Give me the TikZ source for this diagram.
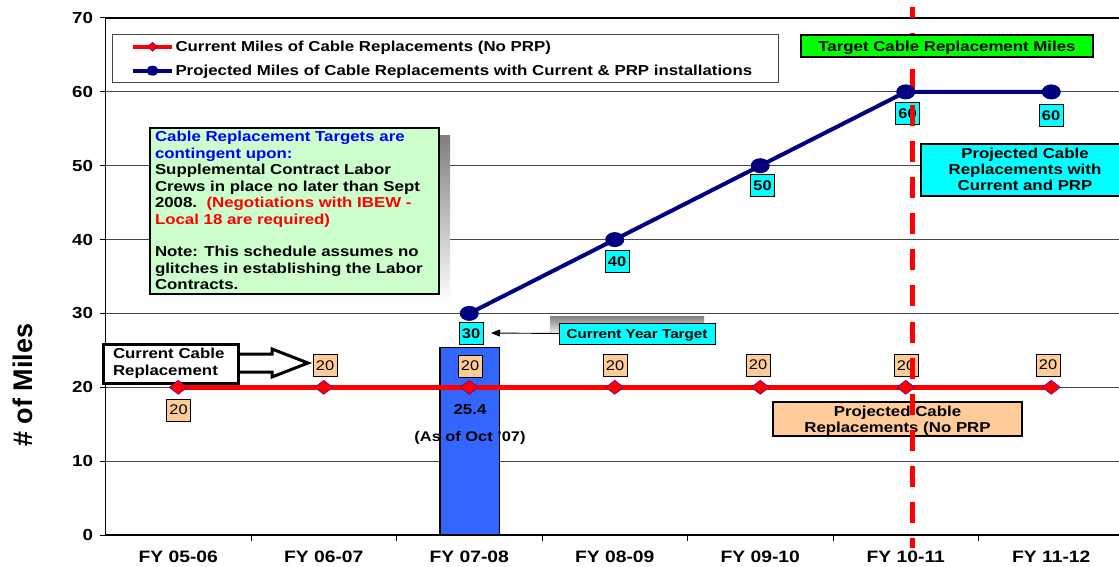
\documentclass[tikz,border=0pt]{standalone}
\usepackage{fontspec}
\setmainfont{Liberation Sans}[FakeStretch=1.17]
\newfontfamily\axisfont{Liberation Sans}
\usetikzlibrary{arrows.meta,shapes.geometric}

\definecolor{navyc}{RGB}{0,0,128}
\definecolor{redc}{RGB}{255,0,0}
\definecolor{cyanc}{RGB}{0,255,255}
\definecolor{peach}{RGB}{255,204,153}
\definecolor{mint}{RGB}{204,255,204}
\definecolor{limec}{RGB}{0,255,0}
\definecolor{barblue}{RGB}{51,102,255}
\definecolor{shade}{RGB}{128,128,128}
\definecolor{noteblue}{RGB}{0,0,255}
\definecolor{mkedge}{RGB}{102,0,153}
\definecolor{gridc}{RGB}{70,70,70}

\newcommand\txtb{\bfseries\fontsize{14.4}{16.4}\selectfont}
\newcommand\txtr{\fontsize{14}{16}\selectfont}

\tikzset{
  every node/.style={inner sep=0pt, outer sep=0pt},
  gridline/.style={gridc, line width=0.9pt},
  ticklbl/.style={font=\bfseries\fontsize{16}{18}\selectfont},
  catlbl/.style={font=\bfseries\fontsize{16.5}{18}\selectfont, anchor=base},
  diam/.style={diamond, fill=redc, draw=mkedge, line width=0.6pt, minimum width=18pt, minimum height=14pt},
  dot/.style={ellipse, fill=navyc, minimum width=19pt, minimum height=15pt},
  vcyan/.style={draw=black, line width=0.8pt, fill=cyanc, minimum width=24pt, minimum height=22pt, text depth=0pt, font=\bfseries\fontsize{14}{16}\selectfont},
  vpeach/.style={draw=black, line width=0.8pt, fill=peach, minimum width=24pt, minimum height=22pt, text depth=0pt, font=\txtr},
  boxline/.style={draw=black, line width=1.3pt},
  tline/.style={anchor=base, font=\txtb},
  nline/.style={anchor=base west, font=\txtb},
}

\begin{document}
\begin{tikzpicture}[x=1pt,y=-1pt]
\clip (0,0) rectangle (1119,567);
\fill[white] (0,0) rectangle (1119,567);

% horizontal grid and plot-area top edge
\foreach \v in {10,20,30,40,50,60}
  \draw[gridline] (105.5,{535-\v*7.3857}) -- (1119,{535-\v*7.3857});
\draw[shade, line width=1.3pt] (105.5,18) -- (1119,18);

% actual year-to-date bar
\node[draw=black, line width=1.2pt, fill=barblue, minimum width=59.5pt, minimum height=187.6pt] (bar) at (469.75,441.2) {};

% axes, ticks and tick labels
\draw[black, line width=1.5pt] (105.5,18) -- (105.5,535) -- (1119,535);
\foreach \v in {0,10,...,70} {
  \draw[black, line width=1pt] (99.5,{535-\v*7.3857}) -- (105.5,{535-\v*7.3857});
  \node[ticklbl, anchor=east] (y\v) at (93,{535-\v*7.3857}) {\v};
}
\foreach \k in {1,...,6}
  \draw[black, line width=1pt] ({105.5+145.5*\k},535) -- ({105.5+145.5*\k},541);
\foreach \k/\t in {0/FY 05-06,1/FY 06-07,2/FY 07-08,3/FY 08-09,4/FY 09-10,5/FY 10-11,6/FY 11-12}
  \node[catlbl] (cat\k) at ({178.25+145.5*\k},562) {\t};

\node[rotate=90, anchor=base, font=\axisfont\bfseries\fontsize{27}{30}\selectfont] (ytitle) at (32,385) {\# of Miles};

% legend
\node[draw=gridc, line width=1pt, fill=white, minimum width=666pt, minimum height=48pt] (legend) at (445,58.7) {};
\draw[redc, line width=4pt] (133,46.7) -- (172,46.7);
\node[diamond, fill=redc, draw=mkedge, line width=0.5pt, minimum width=10pt, minimum height=9pt] (legmk1) at (152.5,46.7) {};
\draw[navyc, line width=4pt] (133,70.7) -- (172,70.7);
\node[ellipse, fill=navyc, minimum width=12pt, minimum height=10pt] (legmk2) at (152.5,70.7) {};
\node[nline] (leg1) at (175.5,51.9) {Current Miles of Cable Replacements (No PRP)};
\node[nline] (leg2) at (175.5,75.9) {Projected Miles of Cable Replacements with Current \& PRP installations};

% note box with drop shadow
\fill[shade] (160,136) rectangle (450,302);
\node[boxline, fill=mint, minimum width=289pt, minimum height=166pt] (note) at (294.5,211) {};
\node[nline, text=noteblue] (n1) at (155,142) {Cable Replacement Targets are};
\node[nline, text=noteblue] (n2) at (155,158.4) {contingent upon:};
\node[nline] (n3) at (155,174.8) {Supplemental Contract Labor};
\node[nline] (n4) at (155,191.2) {Crews in place no later than Sept};
\node[nline] (n5) at (155,207.6) {2008.\ \ \textcolor{redc}{(Negotiations with IBEW -}};
\node[nline, text=redc] (n6) at (155,224) {Local 18 are required)};
\node[nline] (n7) at (155,256.8) {Note: This schedule assumes no};
\node[nline] (n8) at (155,273.2) {glitches in establishing the Labor};
\node[nline] (n9) at (155,289.6) {Contracts.};

% data series
\coordinate (r1) at (178.25,387.3);
\coordinate (r2) at (323.75,387.3);
\coordinate (r3) at (469.25,387.3);
\coordinate (r4) at (614.75,387.3);
\coordinate (r5) at (760.25,387.3);
\coordinate (r6) at (905.75,387.3);
\coordinate (r7) at (1051.25,387.3);
\coordinate (p3) at (469.25,313.4);
\coordinate (p4) at (614.75,239.6);
\coordinate (p5) at (760.25,165.7);
\coordinate (p6) at (905.75,91.9);
\coordinate (p7) at (1051.25,91.9);
\draw[redc, line width=4.5pt] (r1) -- (r2) -- (r3) -- (r4) -- (r5) -- (r6) -- (r7);
\draw[navyc, line width=4pt] (p3) -- (p4) -- (p5) -- (p6) -- (p7);

% bar annotation
\node[anchor=base, font=\txtb] (barval) at (470,414) {25.4};
\node[anchor=base, font=\bfseries\fontsize{14}{16}\selectfont] (bardate) at (470,441) {(As of Oct ’07)};

% data labels
\node[vpeach] (lr1) at (178.5,410) {20};
\node[vpeach] (lr2) at (325,365.5) {20};
\node[vpeach] (lr3) at (470,366) {20};
\node[vpeach] (lr4) at (615,365.5) {20};
\node[vpeach] (lr5) at (758,365) {20};
\node[vpeach] (lr6) at (906,365.5) {20};
\node[vpeach] (lr7) at (1048,365) {20};
\node[vcyan] (lp3) at (471,333.5) {30};
\node[vcyan] (lp4) at (617,261.5) {40};
\node[vcyan] (lp5) at (762.5,185.5) {50};
\node[vcyan] (lp6) at (907.5,113.5) {60};
\node[vcyan] (lp7) at (1051,115.5) {60};

% current year target callout
\fill[shade] (550,316) rectangle (704,336);
\coordinate (cyttip) at (491,333);
\node[draw=black, line width=1pt, fill=cyanc, minimum width=156pt, minimum height=21pt, text depth=0pt, font=\bfseries\fontsize{13}{15}\selectfont] (cyt) at (637,333.5) {Current Year Target};
\draw[black, line width=0.9pt, -{Triangle[length=9pt,width=7pt]}] (cyt.west) -- (cyttip);

% current cable replacement callout with block arrow
\draw[black, line width=3pt, fill=white, line join=miter] (236,354) -- (272,354) -- (272,349) -- (308,363) -- (272,377) -- (272,372) -- (236,372) -- cycle;
\node[draw=black, line width=3pt, fill=white, minimum width=135pt, minimum height=39pt] (ccr) at (170.5,363.5) {};
\node[nline] (ccr1) at (113,358.3) {Current Cable};
\node[nline] (ccr2) at (113,375) {Replacement};

% projected (no PRP) caption
\node[draw=black, line width=1.2pt, fill=peach, minimum width=249pt, minimum height=34pt] (noprp) at (897.5,419) {};
\node[tline] (noprp1) at (897.5,416) {Projected Cable};
\node[tline] (noprp2) at (897.5,432) {Replacements (No PRP};

% projected with PRP caption
\node[draw=black, line width=1.2pt, fill=cyanc, minimum width=210pt, minimum height=52pt] (withprp) at (1026,170) {};
\node[tline] (wp1) at (1025,158.2) {Projected Cable};
\node[tline] (wp2) at (1025,174.2) {Replacements with};
\node[tline] (wp3) at (1025,190.2) {Current and PRP};

% target year marker
\draw[redc, line width=4.5pt, dash pattern=on 21pt off 15.1pt, dash phase=10.4pt] (912.5,7) -- (912.5,548);

% markers
\foreach \i in {1,...,7} \node[diam] (mr\i) at (r\i) {};
\foreach \i in {3,...,7} \node[dot] (mp\i) at (p\i) {};

% target caption
\node[draw=black, line width=1.2pt, fill=limec, minimum width=292pt, minimum height=22pt, text depth=0pt, font=\txtb] (target) at (947,46) {Target Cable Replacement Miles};
\end{tikzpicture}
\end{document}
